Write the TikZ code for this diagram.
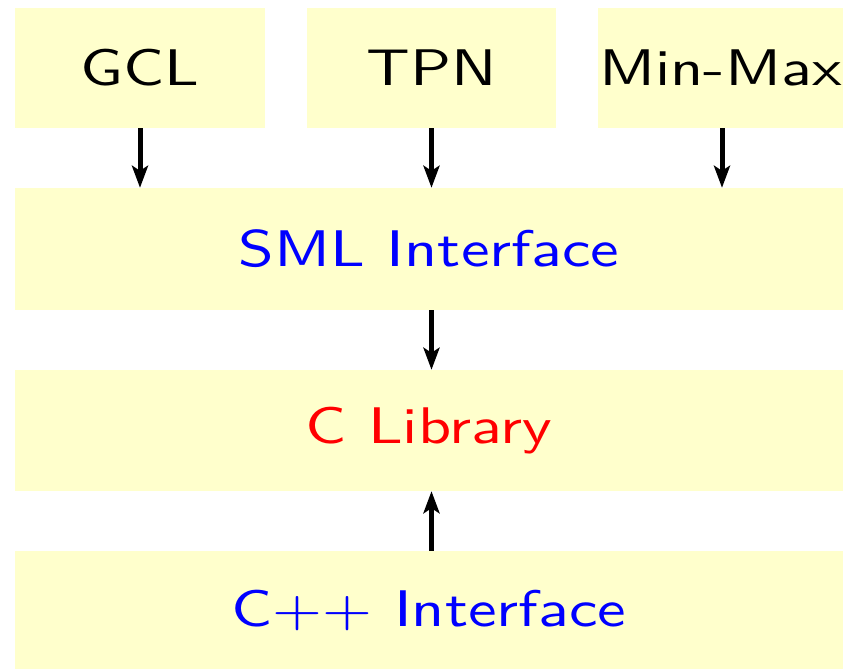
\documentclass[tikz,border=0pt]{standalone}
\usetikzlibrary{arrows.meta}
\definecolor{boxfill}{RGB}{255,255,204}
% wide sans lettering: 10pt design size, enlarged and stretched
\newcommand{\widesans}[1]{\scalebox{6.42}[5.15]{\sffamily\fontsize{10}{12}\selectfont #1}}
\begin{document}
\begin{tikzpicture}[x=1pt,y=-1pt,
  layer/.style={fill=boxfill,draw=none,inner sep=0pt},
  flow/.style={line width=5pt,-{Stealth[length=22pt,width=16pt,inset=5pt]}}]
  \useasboundingbox (0,0) rectangle (843,669);
  % top row
  \node[layer,minimum width=250pt,minimum height=120pt] (gcl) at (140,68) {\widesans{GCL}};
  \node[layer,minimum width=249pt,minimum height=120pt] (tpn) at (431.5,68) {\widesans{TPN}};
  \node[layer,minimum width=245pt,minimum height=120pt] (mm) at (720.5,68) {\widesans{Min-Max}};
  % stacked layers
  \node[layer,minimum width=828pt,minimum height=122pt,text=blue] (sml) at (429,249) {\widesans{SML Interface}};
  \node[layer,minimum width=828pt,minimum height=121pt,text=red] (clib) at (429,430.5) {\widesans{C Library}};
  \node[layer,minimum width=828pt,minimum height=118pt,text=blue] (cpp) at (429,610) {\widesans{C++ Interface}};
  % connectors
  \draw[flow] (gcl.south) -- (gcl.south |- sml.north);
  \draw[flow] (tpn.south) -- (tpn.south |- sml.north);
  \draw[flow] ([xshift=1.5pt]mm.south) -- ([xshift=1.5pt]mm.south |- sml.north);
  \draw[flow] (sml.south -| tpn.south) -- (clib.north -| tpn.south);
  \draw[flow] (cpp.north -| tpn.south) -- (clib.south -| tpn.south);
\end{tikzpicture}
\end{document}
